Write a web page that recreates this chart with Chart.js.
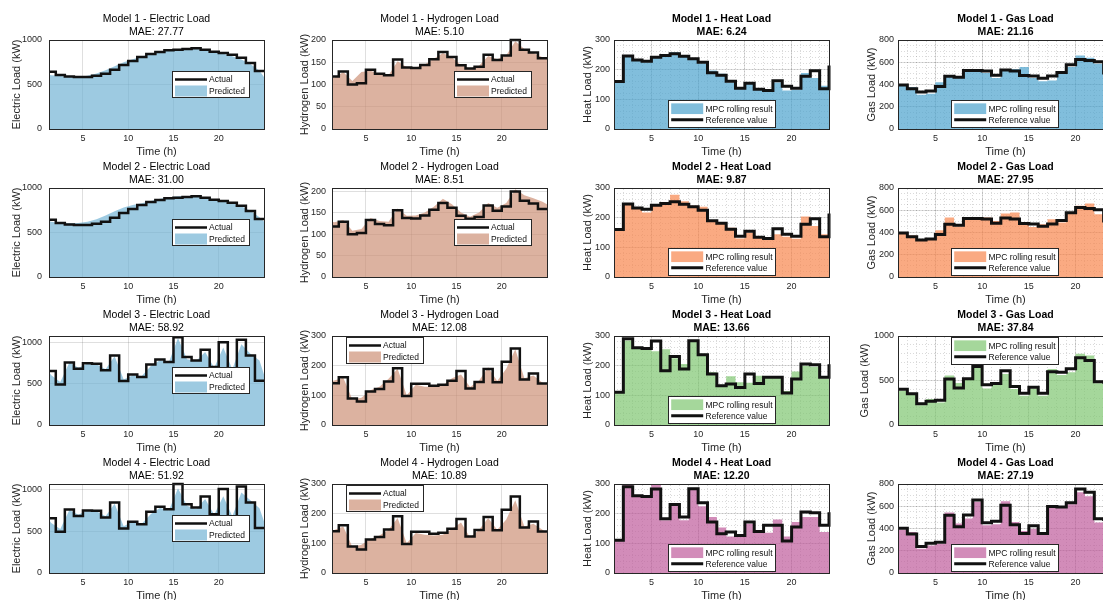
<!DOCTYPE html>
<html>
<head>
<meta charset="utf-8">
<script src="https://cdn.jsdelivr.net/npm/chart.js@4.4.1/dist/chart.umd.min.js"></script>
<style>
  html, body { margin: 0; padding: 0; background: #fff; width: 1103px; height: 600px; overflow: hidden; }
  #fig { position: relative; width: 1103px; height: 600px; overflow: hidden; background: #fff; }
  #fig canvas { position: absolute; }
</style>
</head>
<body>
<div id="fig"></div>
<script>
// ---------------- data ----------------
const hours = [1,2,3,4,5,6,7,8,9,10,11,12,13,14,15,16,17,18,19,20,21,22,23,24];
const predTimes = [1.25,1.5,2.5,3.5,4.5,5.5,6.5,7.5,8.5,9.5,10.5,11.5,12.5,13.5,14.5,15.5,16.5,17.5,18.5,19.5,20.5,21.5,22.5,23.5,24.5,25];
const xTickValues = [5,10,15,20];

const modelNames = ['Model 1','Model 2','Model 3','Model 4'];
const maeElectric = ['27.77','31.00','58.92','51.92'];
const maeHydrogen = ['5.10','8.51','12.08','10.89'];
const maeHeat     = ['6.24','9.87','13.66','12.20'];
const maeGas      = ['21.16','27.95','37.84','27.19'];

// electric load (kW): measured hourly values and model predictions
const elecActualA = [644,607,589,584,584,599,622,667,719,764,809,843,865,884,891,899,906,891,869,854,835,801,742,652];
const elecActualB = [652,490,755,680,745,740,660,840,530,610,580,730,790,760,1060,820,780,910,700,1000,650,1030,840,535];
const elecPred1 = [610,605,595,588,586,598,625,660,705,750,785,815,842,866,885,899,905,902,888,868,846,818,782,730,655,585];
const elecPred2 = [628,622,608,603,608,622,648,690,738,780,808,830,855,878,897,908,910,905,892,872,850,828,795,745,672,625];
const elecPred3 = [640,600,520,755,692,741,733,672,830,550,600,591,712,781,761,1050,794,773,883,692,935,672,976,860,780,611];
const elecPred4 = [635,595,525,750,694,746,734,675,825,556,615,587,702,774,746,1010,802,762,881,694,913,675,960,865,770,615];

// hydrogen load (kW)
const hydActualA = [118,129,100,103,133,124,121,156,138,137,144,157,173,162,143,136,140,167,155,165,200,178,172,159];
const hydActualB = [141,161,89,79,113,121,147,191,98,139,139,132,136,149,182,123,145,189,144,213,258,153,174,140];
const hydPred1 = [118,115,128,108,128,131,123,121,152,139,138,145,158,171,161,143,136,142,164,157,166,197,180,171,161,158];
const hydPred2 = [129,128,133,108,112,138,131,129,160,143,144,151,164,183,170,151,141,151,173,162,173,205,191,184,176,170];
const hydPred3 = [148,150,159,86,92,117,129,156,190,100,136,129,129,133,158,170,128,150,195,148,190,255,158,167,142,136];
const hydPred4 = [140,145,157,88,95,115,126,146,185,100,135,129,126,129,148,170,120,146,185,146,180,245,157,166,146,135];

// heat load (kW): reference profile and MPC rolling results
const heatRefA = [160,246,233,228,242,248,254,245,237,225,190,181,161,137,154,134,130,163,144,137,178,196,136,214];
const heatRefB = [110,291,260,258,283,183,231,189,284,237,172,132,138,126,172,140,161,161,108,155,206,203,161,205];
const heatMpc1 = [157,243,229,225,246,248,259,246,234,221,197,186,157,138,153,132,129,157,130,132,189,172,146,146];
const heatMpc2 = [157,243,234,217,242,246,277,255,240,237,189,183,166,130,149,132,127,144,136,129,204,172,144,144];
const heatMpc3 = [108,285,263,257,249,255,225,206,282,240,178,132,164,144,142,166,161,161,115,180,200,196,157,157];
const heatMpc4 = [108,300,259,259,300,178,229,178,282,225,189,153,123,121,166,138,136,180,123,172,189,189,138,138];

// gas load (kW)
const gasRefA = [395,362,332,341,383,474,465,525,525,522,483,531,522,480,477,456,477,507,577,625,616,604,504,480];
const gasRefB = [402,350,238,267,277,518,415,521,657,452,466,610,433,356,425,356,598,594,631,755,725,487,480,470];
const gasMpc1 = [395,377,308,317,420,474,459,519,525,504,459,525,540,558,459,429,435,498,558,661,640,586,500,480];
const gasMpc2 = [398,374,323,347,420,534,453,519,525,534,504,571,580,474,450,474,519,489,580,640,661,565,490,470];
const gasMpc3 = [385,336,223,291,253,555,472,509,687,411,460,574,404,328,411,328,630,562,592,800,781,470,470,460];
const gasMpc4 = [389,368,217,248,263,543,444,489,640,429,438,646,459,377,398,347,610,595,619,725,691,453,460,450];

// axis limits and tick labels per row
const elecYMax = [1000, 1000, 1075, 1060];
const elecYTicks = [[0,500,1000],[0,500,1000],[0,500,1000],[0,500,1000]];
const hydYMax = [200, 208, 300, 300];
const hydYTicks = [[0,50,100,150,200],[0,50,100,150,200],[0,100,200,300],[0,100,200,300]];
const heatYMax = [300, 300, 300, 300];
const heatYTicks = [[0,100,200,300],[0,100,200,300],[0,100,200,300],[0,100,200,300]];
const gasYMax = [800, 800, 1000, 800];
const gasYTicks = [[0,200,400,600,800],[0,200,400,600,800],[0,500,1000],[0,200,400,600,800]];

// ---------------- styling ----------------
const FONT = "'Liberation Sans', Arial, Helvetica, sans-serif";
const AXIS_C = '#262626';
const GRID_C = 'rgba(38,38,38,0.15)';
const MINOR_C = 'rgba(38,38,38,0.17)';
const LINE_C = '#111111';
const ELEC_FILL = 'rgba(116,179,212,0.70)';
const HYD_FILL = 'rgba(205,145,119,0.70)';
const ROW_FILL = ['rgba(76,162,205,0.70)', 'rgba(248,134,77,0.70)', 'rgba(127,198,112,0.70)', 'rgba(191,91,155,0.70)'];

// ---------------- layout ----------------
const colLeft = [49, 332, 614, 898];
const rowTop = [40, 188, 336, 484];
const PLOT_W = 215, PLOT_H = 89;
const AXIS_W = 40, TITLE_H = 30, XAXIS_H = 30, PAD_R = 4;
const LABEL_SIZE = 11;
const LABEL_HALF = LABEL_SIZE * 1.2 / 2;

// inset legend drawn inside the plot area, entries taken from the datasets
const insetLegend = {
  id: 'insetLegend',
  afterDraw(chart, args, o) {
    if (!o || !o.show) return;
    const { ctx, chartArea: a } = chart;
    const x0 = Math.round(a.left + o.left) + 0.5;
    const y0 = Math.round(a.top + o.top) + 0.5;
    ctx.save();
    ctx.fillStyle = '#ffffff';
    ctx.fillRect(x0, y0, o.width, o.height);
    ctx.strokeStyle = AXIS_C;
    ctx.lineWidth = 1;
    ctx.strokeRect(x0, y0, o.width, o.height);
    ctx.font = o.fontSize + 'px ' + FONT;
    ctx.textBaseline = 'middle';
    ctx.textAlign = 'left';
    chart.data.datasets.forEach((ds, i) => {
      const cy = y0 + o.rowY[i];
      const sx = x0 + o.sampleX;
      if (ds.fill) {
        ctx.fillStyle = ds.backgroundColor;
        ctx.fillRect(sx, cy - o.swatchH / 2, o.sampleW, o.swatchH);
      } else {
        ctx.strokeStyle = ds.borderColor;
        ctx.lineWidth = ds.borderWidth;
        ctx.beginPath();
        ctx.moveTo(sx, cy);
        ctx.lineTo(sx + o.sampleW, cy);
        ctx.stroke();
      }
      ctx.fillStyle = '#111111';
      ctx.fillText(ds.label, x0 + o.textX, cy + 0.5);
    });
    ctx.restore();
  }
};

function stairs(xs, ys, xEnd) {
  const pts = xs.map((x, i) => ({ x: x, y: ys[i] }));
  if (xEnd !== undefined) pts.push({ x: xEnd, y: ys[ys.length - 1] });
  return pts;
}
function curve(xs, ys) { return xs.map((x, i) => ({ x: x, y: ys[i] })); }
function range(a, b, step) { const out = []; for (let v = a; v <= b + 1e-9; v += step) out.push(+v.toFixed(6)); return out; }
function setTicks(values) { return s => { s.ticks = values.map(v => ({ value: v })); }; }

function stairLine(label, pts, width) {
  return { label, data: pts, stepped: 'before', fill: false, borderColor: LINE_C, borderWidth: width,
           pointRadius: 0, borderJoinStyle: 'miter', borderCapStyle: 'butt', order: 0,
           xAxisID: 'x', yAxisID: 'y', clip: { left: 0, top: 2, right: 2, bottom: 0 } };
}
function areaCurve(label, pts, color) {
  return { label, data: pts, fill: 'origin', backgroundColor: color, borderWidth: 0, borderColor: 'rgba(0,0,0,0)',
           pointRadius: 0, tension: 0, order: 1, xAxisID: 'x', yAxisID: 'y' };
}
function areaStairs(label, pts, color) {
  return { label, data: pts, stepped: 'before', fill: 'origin', backgroundColor: color, borderWidth: 0,
           borderColor: 'rgba(0,0,0,0)', pointRadius: 0, order: 1, xAxisID: 'x', yAxisID: 'y' };
}

const fig = document.getElementById('fig');

function makeChart(p) {
  const cv = document.createElement('canvas');
  cv.width = AXIS_W + PLOT_W + PAD_R;
  cv.height = TITLE_H + PLOT_H + XAXIS_H;
  cv.style.left = (colLeft[p.col] - AXIS_W) + 'px';
  cv.style.top = (rowTop[p.row] - TITLE_H) + 'px';
  cv.style.width = cv.width + 'px';
  cv.style.height = cv.height + 'px';
  fig.appendChild(cv);

  const tickFont = { family: FONT, size: 9 };
  const labelFont = { family: FONT, size: LABEL_SIZE };
  const minor = p.minor;

  new Chart(cv, {
    type: 'line',
    data: { datasets: p.datasets },
    plugins: [insetLegend],
    options: {
      responsive: false,
      devicePixelRatio: 1,
      animation: false,
      events: [],
      layout: { padding: { left: 0, top: 0, right: PAD_R, bottom: 0 } },
      plugins: {
        legend: { display: false },
        tooltip: { enabled: false },
        title: {
          display: true, text: p.title, fullSize: false, color: '#000000',
          font: { family: FONT, size: 10.5, weight: p.bold ? 'bold' : 'normal', lineHeight: 1.27 },
          padding: { top: 2, bottom: 1.33 }
        },
        insetLegend: Object.assign({ show: true, fontSize: 8.5, sampleW: 32 }, p.legend)
      },
      scales: {
        x: {
          type: 'linear', position: 'bottom', min: p.xMin, max: p.xMax,
          afterBuildTicks: setTicks(xTickValues),
          afterFit: s => { s.height = XAXIS_H; },
          grid: { color: GRID_C, lineWidth: 1, drawTicks: false },
          border: { display: true, color: AXIS_C, width: 1, z: 1 },
          ticks: { font: tickFont, color: AXIS_C, padding: 4.3, maxRotation: 0, autoSkip: false, callback: v => String(v) },
          title: { display: true, text: 'Time (h)', font: labelFont, color: AXIS_C,
                   padding: { top: 0, bottom: XAXIS_H - 23 - LABEL_HALF } }
        },
        y: {
          type: 'linear', position: 'left', min: 0, max: p.yMax,
          afterBuildTicks: setTicks(p.yTicks),
          afterFit: s => { s.width = AXIS_W; },
          grid: { color: GRID_C, lineWidth: 1, drawTicks: false },
          border: { display: true, color: AXIS_C, width: 1, z: 1 },
          ticks: { font: tickFont, color: AXIS_C, padding: p.tickPad, autoSkip: false, callback: v => String(v) },
          title: { display: true, text: p.yLabel, font: labelFont, color: AXIS_C,
                   padding: { top: AXIS_W - p.yLabelOffset - LABEL_HALF, bottom: 0 } }
        },
        xTop: {
          type: 'linear', position: 'top', min: p.xMin, max: p.xMax,
          afterBuildTicks: setTicks(minor ? range(p.xMin, p.xMax, 1) : []),
          afterFit: s => { s.height = 0; },
          grid: { display: !!minor, color: MINOR_C, lineWidth: 1, drawTicks: false },
          border: { display: true, color: AXIS_C, width: 1, z: 1, dash: [1, 2] },
          ticks: { display: false, autoSkip: false }
        },
        yRight: {
          type: 'linear', position: 'right', min: 0, max: p.yMax,
          afterBuildTicks: setTicks(minor ? range(0, p.yMax, minor) : []),
          afterFit: s => { s.width = 0; },
          grid: { display: !!minor, color: MINOR_C, lineWidth: 1, drawTicks: false },
          border: { display: true, color: AXIS_C, width: 1, z: 1, dash: [1, 2] },
          ticks: { display: false, autoSkip: false }
        }
      }
    }
  });
}

const elecActual = [elecActualA, elecActualA, elecActualB, elecActualB];
const elecPred = [elecPred1, elecPred2, elecPred3, elecPred4];
const hydActual = [hydActualA, hydActualA, hydActualB, hydActualB];
const hydPred = [hydPred1, hydPred2, hydPred3, hydPred4];
const heatRef = [heatRefA, heatRefA, heatRefB, heatRefB];
const heatMpc = [heatMpc1, heatMpc2, heatMpc3, heatMpc4];
const gasRef = [gasRefA, gasRefA, gasRefB, gasRefB];
const gasMpc = [gasMpc1, gasMpc2, gasMpc3, gasMpc4];

const legendSmall = { width: 77, height: 26, rowY: [8, 19.5], sampleX: 2.5, textX: 36.5, swatchH: 11 };
const legendWide = { width: 107, height: 27, rowY: [8.2, 19.3], sampleX: 2.7, textX: 37, swatchH: 10.7 };

for (let r = 0; r < 4; r++) {
  // electric
  makeChart({
    col: 0, row: r, bold: false,
    title: [modelNames[r] + ' - Electric Load', 'MAE: ' + maeElectric[r]],
    yLabel: 'Electric Load (kW)', yLabelOffset: 32.3, tickPad: 7,
    xMin: 1.25, xMax: 25, yMax: elecYMax[r], yTicks: elecYTicks[r], minor: 0,
    datasets: [
      stairLine('Actual', stairs(hours, elecActual[r], 25), 2.5),
      areaCurve('Predicted', curve(predTimes, elecPred[r]), ELEC_FILL)
    ],
    legend: Object.assign({ left: 123, top: 31 }, legendSmall)
  });
  // hydrogen
  makeChart({
    col: 1, row: r, bold: false,
    title: [modelNames[r] + ' - Hydrogen Load', 'MAE: ' + maeHydrogen[r]],
    yLabel: 'Hydrogen Load (kW)', yLabelOffset: 26.7, tickPad: 6,
    xMin: 1.25, xMax: 25, yMax: hydYMax[r], yTicks: hydYTicks[r], minor: 0,
    datasets: [
      stairLine('Actual', stairs(hours, hydActual[r], 25), 2.5),
      areaCurve('Predicted', curve(predTimes, hydPred[r]), HYD_FILL)
    ],
    legend: Object.assign(r < 2 ? { left: 122, top: 31 } : { left: 14, top: 1 }, legendSmall)
  });
  // heat
  makeChart({
    col: 2, row: r, bold: true,
    title: [modelNames[r] + ' - Heat Load', 'MAE: ' + maeHeat[r]],
    yLabel: 'Heat Load (kW)', yLabelOffset: 26, tickPad: 4,
    xMin: 1, xMax: 24, yMax: heatYMax[r], yTicks: heatYTicks[r], minor: 20,
    datasets: [
      areaStairs('MPC rolling result', stairs(hours, heatMpc[r]), ROW_FILL[r]),
      stairLine('Reference value', stairs(hours, heatRef[r]), 3)
    ],
    legend: Object.assign({ left: 54, top: 60 }, legendWide)
  });
  // gas
  makeChart({
    col: 3, row: r, bold: true,
    title: [modelNames[r] + ' - Gas Load', 'MAE: ' + maeGas[r]],
    yLabel: 'Gas Load (kW)', yLabelOffset: r === 2 ? 32.7 : 26, tickPad: 4,
    xMin: 1, xMax: 24, yMax: gasYMax[r], yTicks: gasYTicks[r], minor: gasYMax[r] === 1000 ? 100 : 50,
    datasets: [
      areaStairs('MPC rolling result', stairs(hours, gasMpc[r]), ROW_FILL[r]),
      stairLine('Reference value', stairs(hours, gasRef[r]), 3)
    ],
    legend: Object.assign(r === 2 ? { left: 53, top: 0.5 } : { left: 53, top: 60 }, legendWide)
  });
}
</script>
</body>
</html>
